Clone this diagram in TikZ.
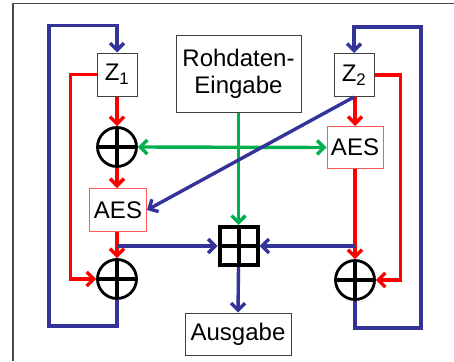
\documentclass[tikz,border=0pt]{standalone}
\usepackage{fontspec}
\setmainfont{Liberation Sans}
\usetikzlibrary{arrows.meta}
\definecolor{cblue}{RGB}{51,51,153}
\definecolor{cgreen}{RGB}{0,176,80}
\definecolor{cred}{RGB}{255,0,0}
\definecolor{cpink}{RGB}{255,90,90}
\begin{document}
\begin{tikzpicture}[x=1pt,y=-1pt,
  txt/.style={font=\fontsize{24}{27}\selectfont, inner sep=0pt, align=center},
  box/.style={txt, draw=black!75, line width=1pt},
  aesbox/.style={txt, draw=cpink, line width=1pt, minimum width=57pt, minimum height=43pt},
  xorc/.style={circle, draw=black, line width=2.8pt, minimum size=39pt, inner sep=0pt,
    path picture={\draw[line width=4pt] (path picture bounding box.north) -- (path picture bounding box.south)
      (path picture bounding box.west) -- (path picture bounding box.east);}},
  bplus/.style={rectangle, draw=black, line width=4pt, minimum size=38pt, inner sep=0pt,
    path picture={\draw[line width=4pt] (path picture bounding box.north) -- (path picture bounding box.south)
      (path picture bounding box.west) -- (path picture bounding box.east);}},
  tip/.tip={Straight Barb[length=7pt,width=14pt]},
  arr/.style={-tip},
  bl/.style={draw=cblue, line width=3.4pt},
  rd/.style={draw=cred, line width=3.4pt},
  gr/.style={draw=cgreen, line width=3.4pt},
  frame/.style={draw=black!70, line width=1.2pt}]
\useasboundingbox (0,0) rectangle (454,361);
\draw[frame] (454,3.5) -- (13,3.5) -- (13,361);

% nodes
\node[box, minimum width=40pt, minimum height=43pt] (z1) at (117,74.5) {Z\textsubscript{1}};
\node[box, minimum width=40pt, minimum height=43pt] (z2) at (354,75) {Z\textsubscript{2}};
\node[box, minimum width=125pt, minimum height=76pt] (roh) at (238.5,74) {Rohdaten-\\Eingabe};
\node[xorc] (x1) at (117,147) {};
\node[aesbox] (a1) at (118,210) {AES};
\node[xorc] (x2) at (117,279) {};
\node[aesbox, minimum width=56pt, minimum height=42pt] (a2) at (355,147.5) {AES};
\node[xorc] (x4) at (355,280) {};
\node[bplus] (bp) at (238.5,246) {};
\node[box, minimum width=106pt, minimum height=42pt] (aus) at (238,334) {Ausgabe};

% green
\draw[gr, tip-tip] (x1.east) -- (a2.west);
\draw[gr, arr] (roh.south) -- (bp.north);

% red
\draw[rd, arr] (z1.south) -- (x1.north);
\draw[rd, arr] (x1.south) -- (a1.north -| x1.south);
\draw[rd, arr] (a1.south -| x2.north) -- (x2.north);
\draw[rd, arr] (z1.west) -- ++(-26,0) |- (x2.west);
\draw[rd, arr] (z2.south -| a2.north) -- (a2.north);
\draw[rd, arr] (a2.south) -- (x4.north);
\draw[rd, arr] (z2.east) -- ++(26,0) |- (x4.east);

% blue
\draw[bl, arr] (x2.south) |- (49,326) -- (49,25.5) -| (z1.north);
\draw[bl, arr] (x4.south) |- (421,328) -- (421,27) -| (z2.north);
\draw[bl, arr] (x2.north |- bp.west) -- (bp.west);
\draw[bl, arr] (x4.north |- bp.east) -- (bp.east);
\draw[bl, arr] (z2.south) -- (a1.east);
\draw[bl, arr] (bp.south) -- (aus.north);
\end{tikzpicture}
\end{document}
